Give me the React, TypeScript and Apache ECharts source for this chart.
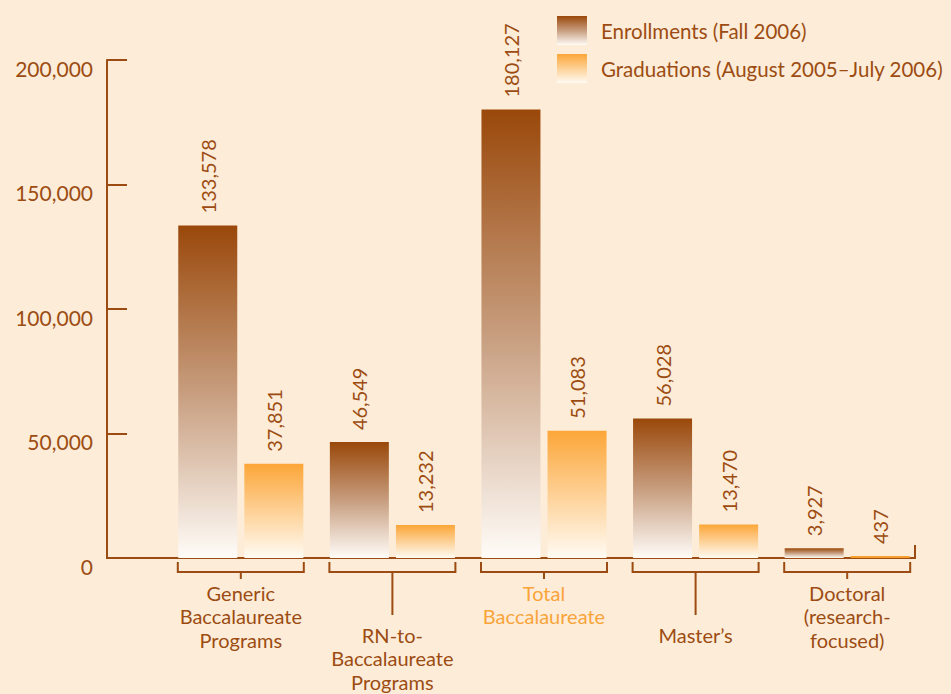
import React, { useEffect, useRef } from "react";
import * as echarts from "echarts";

const categories = [
  "Generic\nBaccalaureate\nPrograms",
  "RN-to-\nBaccalaureate\nPrograms",
  "Total\nBaccalaureate",
  "Master’s",
  "Doctoral\n(research-\nfocused)",
];
const enrollments = [133578, 46549, 180127, 56028, 3927];
const graduations = [37851, 13232, 51083, 13470, 437];
const seriesNames = ["Enrollments (Fall 2006)", "Graduations (August 2005–July 2006)"];
const yTicks = [0, 50000, 100000, 150000, 200000];

const BROWN = "#9c4c12";
const ORANGE = "#f9a43a";
const BG = "#fdecd8";
const FONT = "Lato, 'Open Sans', sans-serif";

// layout helpers (not data)
const deepLabel = [false, true, false, true, false];
const highlight = [false, false, true, false, false];

const fmt = (v: number) => v.toLocaleString("en-US");

export default function App() {
  const ref = useRef<HTMLDivElement>(null);
  useEffect(() => {
    if (!ref.current) return;
    const chart = echarts.init(ref.current, undefined, { renderer: "svg" });
    const enrollGrad = new echarts.graphic.LinearGradient(0, 0, 0, 1, [
      { offset: 0, color: "#9a480a" },
      { offset: 0.5, color: "#c79d7e" },
      { offset: 1, color: "#fffcf8" },
    ]);
    const gradGrad = new echarts.graphic.LinearGradient(0, 0, 0, 1, [
      { offset: 0, color: "#fca638" },
      { offset: 1, color: "#fffbf3" },
    ]);
    const valueLabel = {
      show: true,
      position: "top",
      rotate: 90,
      align: "left",
      verticalAlign: "middle",
      distance: 12,
      color: BROWN,
      fontSize: 20,
      fontFamily: FONT,
      formatter: (p: any) => fmt(p.value),
    };
    // very thin bars are drawn as a solid line in the reference
    const gradData = graduations.map((v) => (v < 1000 ? { value: v, itemStyle: { color: "#f7a030" } } : v));
    chart.setOption({
      animation: false,
      backgroundColor: BG,
      textStyle: { fontFamily: FONT },
      legend: {
        orient: "vertical",
        left: 557,
        top: 16,
        padding: 0,
        itemWidth: 30,
        itemHeight: 29,
        itemGap: 9,
        icon: "rect",
        data: seriesNames,
        textStyle: { color: BROWN, fontSize: 20.5, fontFamily: FONT, padding: [0, 0, 0, 9] },
      },
      grid: { left: 165, right: 28, top: 60, bottom: 136 },
      xAxis: {
        type: "category",
        data: categories,
        axisLine: { show: false },
        axisTick: { show: false },
        axisLabel: { show: false },
      },
      yAxis: {
        type: "value",
        min: yTicks[0],
        max: yTicks[yTicks.length - 1],
        interval: yTicks[1] - yTicks[0],
        offset: 58,
        axisLine: { show: true, lineStyle: { color: BROWN, width: 2 } },
        axisTick: { show: true, inside: true, length: 20, lineStyle: { color: BROWN, width: 2 } },
        splitLine: { show: false },
        axisLabel: {
          color: BROWN,
          fontSize: 21,
          fontFamily: FONT,
          margin: 14,
          verticalAlign: "top",
          lineHeight: 16,
          formatter: (v: number) => fmt(v),
        },
      },
      graphic: [
        { type: "line", shape: { x1: 106, y1: 558, x2: 916, y2: 558 }, style: { stroke: BROWN, lineWidth: 2 } },
        { type: "line", shape: { x1: 915, y1: 545, x2: 915, y2: 559 }, style: { stroke: BROWN, lineWidth: 2 } },
      ],
      series: [
        {
          name: seriesNames[0],
          type: "bar",
          data: enrollments,
          barWidth: 59,
          barGap: "12%",
          itemStyle: { color: enrollGrad },
          label: valueLabel,
        },
        {
          name: seriesNames[1],
          type: "bar",
          data: gradData,
          barWidth: 59,
          barGap: "12%",
          barMinHeight: 2,
          itemStyle: { color: gradGrad },
          label: valueLabel,
        },
        {
          type: "custom",
          silent: true,
          clip: false,
          data: categories.map((_, i) => [i, 0]),
          renderItem: (params: any, api: any) => {
            const i = api.value(0);
            const [cx, y0] = api.coord([i, 0]);
            const half = 63;
            const top = y0 + 4;
            const bot = y0 + 14;
            const tickEnd = deepLabel[i] ? y0 + 57 : y0 + 21;
            const textY = deepLabel[i] ? y0 + 65 : y0 + 23;
            return {
              type: "group",
              children: [
                {
                  type: "polyline",
                  shape: { points: [[cx - half, top], [cx - half, bot], [cx + half, bot], [cx + half, top]] },
                  style: { stroke: BROWN, lineWidth: 2, fill: "none" },
                },
                {
                  type: "line",
                  shape: { x1: cx, y1: bot, x2: cx, y2: tickEnd },
                  style: { stroke: BROWN, lineWidth: 2 },
                },
                {
                  type: "text",
                  x: cx,
                  y: textY,
                  style: {
                    text: categories[i],
                    textAlign: "center",
                    textVerticalAlign: "top",
                    fontSize: 20,
                    lineHeight: 23.5,
                    fontFamily: FONT,
                    fill: highlight[i] ? ORANGE : BROWN,
                  },
                },
              ],
            };
          },
        },
      ],
    });
    return () => chart.dispose();
  }, []);
  return <div ref={ref} style={{ width: 951, height: 694, position: "absolute", left: 0, top: 0 }} />;
}
